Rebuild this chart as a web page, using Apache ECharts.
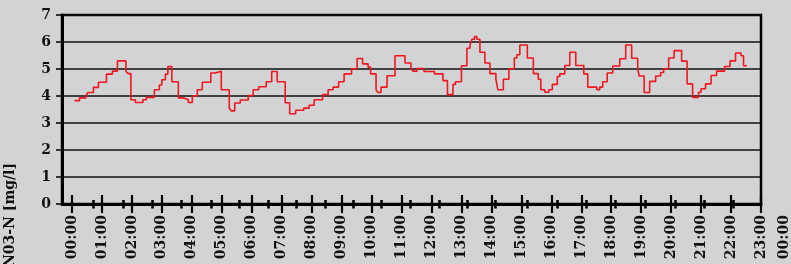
<!DOCTYPE html>
<html>
<head>
<meta charset="utf-8">
<script src="https://cdn.jsdelivr.net/npm/echarts@6/dist/echarts.min.js"></script>
<style>
  html, body { margin: 0; padding: 0; background: #d2d3d5; }
  #chart { width: 791px; height: 264px; }
</style>
</head>
<body>
<div id="chart"></div>
<script>
// step start time (minutes after 00:00) and NO3-N value [mg/l]
const stepTimes = [
  5, 15, 28, 32, 43, 53, 69, 81, 91, 108, 112, 118, 127, 142, 149, 165, 175, 180, 187, 192,
  200, 213, 224, 233, 241, 251, 261, 278, 287, 299, 315, 319, 326, 337, 353, 363, 374, 389, 400, 411,
  427, 436, 448, 464, 475, 485, 502, 513, 523, 534, 545, 560, 571, 582, 593, 598, 609, 613, 619, 631,
  647, 667, 679, 683, 691, 705, 726, 743, 752, 763, 768, 780, 791, 797, 801, 806, 811, 817, 827, 837,
  849, 853, 864, 875, 886, 891, 897, 912, 924, 934, 939, 947, 955, 962, 972, 977, 987, 997, 1009, 1025,
  1033, 1051, 1057, 1063, 1072, 1083, 1097, 1109, 1121, 1133, 1136, 1146, 1157, 1169, 1179, 1185, 1195, 1206, 1221, 1232,
  1243, 1255, 1260, 1269, 1280, 1291, 1307, 1318, 1329, 1340, 1345
];
const no3Values = [
  3.83, 3.93, 4.03, 4.13, 4.32, 4.51, 4.81, 4.92, 5.30, 4.92, 4.83, 3.86, 3.76, 3.86, 3.95, 4.23, 4.41, 4.60, 4.81, 5.09,
  4.53, 3.93, 3.86, 3.76, 4.01, 4.23, 4.51, 4.85, 4.92, 4.23, 3.55, 3.45, 3.74, 3.85, 4.02, 4.23, 4.34, 4.53, 4.91, 4.53,
  3.75, 3.34, 3.47, 3.55, 3.66, 3.86, 4.05, 4.23, 4.33, 4.53, 4.82, 5.01, 5.39, 5.19, 5.07, 4.82, 4.23, 4.13, 4.33, 4.75,
  5.49, 5.22, 5.02, 4.92, 5.02, 4.91, 4.82, 4.57, 4.05, 4.43, 4.53, 5.12, 5.77, 5.87, 6.10, 6.20, 6.10, 5.62, 5.22, 4.83,
  4.62, 4.23, 4.62, 5.01, 5.41, 5.53, 5.89, 5.41, 4.83, 4.62, 4.23, 4.14, 4.23, 4.43, 4.72, 4.82, 5.13, 5.62, 5.13, 4.82,
  4.33, 4.23, 4.33, 4.53, 4.85, 5.11, 5.38, 5.89, 5.40, 5.01, 4.74, 4.13, 4.54, 4.74, 4.87, 5.01, 5.41, 5.68, 5.29, 4.45,
  3.95, 4.14, 4.27, 4.45, 4.76, 4.92, 5.09, 5.30, 5.59, 5.49, 5.12
];
const lastTime = 1352;

const hourLabels = [
  '00:00', '01:00', '02:00', '03:00', '04:00', '05:00', '06:00', '07:00', '08:00', '09:00', '10:00', '11:00',
  '12:00', '13:00', '14:00', '15:00', '16:00', '17:00', '18:00', '19:00', '20:00', '21:00', '22:00', '23:00'
];
// the second tick row of the original (minutes)
const minorTicks = [
  43, 102, 160, 219, 279, 336, 393, 449, 507, 564, 619, 677,
  735, 791, 848, 911, 971, 1031, 1089, 1149, 1208, 1266, 1325
];
const yTicks = [0, 1, 2, 3, 4, 5, 6, 7];

const hourTicks = hourLabels.map(s => parseInt(s, 10) * 60);
const seriesData = stepTimes.map((t, i) => [t, no3Values[i]]);
seriesData.push([lastTime, no3Values[no3Values.length - 1]]);

const font = 'DejaVu Serif';
const labelStyle = { fontFamily: font, fontWeight: 'bold', fontSize: 14, color: '#111' };
const fmtTime = v => hourLabels[Math.round(v / 60) % 24];

const chart = echarts.init(document.getElementById('chart'));
chart.setOption({
  backgroundColor: '#d2d3d5',
  animation: false,
  grid: [
    { left: 62, right: 30, top: 15, bottom: 60, show: true, borderColor: '#000', borderWidth: 2.5, backgroundColor: 'transparent' },
    // only carries the next day's 00:00 label, cut by the edge
    { left: 62, width: 725, top: 15, bottom: 60, show: false }
  ],
  xAxis: [
    {
      gridIndex: 0, type: 'value', min: -20, max: 1380, position: 'bottom',
      axisLine: { show: true, lineStyle: { color: '#000', width: 3 } },
      axisTick: { show: false },
      splitLine: { show: false },
      axisLabel: Object.assign({
        customValues: hourTicks, rotate: 90, margin: 11, formatter: fmtTime
      }, labelStyle)
    },
    {
      // hour ticks crossing the axis
      gridIndex: 0, type: 'value', min: -20, max: 1380, position: 'bottom', offset: -9,
      axisLine: { show: false },
      axisTick: { show: true, customValues: hourTicks, length: 18, lineStyle: { color: '#000', width: 2.2 } },
      axisLabel: { show: false },
      splitLine: { show: false }
    },
    {
      // second tick row
      gridIndex: 0, type: 'value', min: -20, max: 1380, position: 'bottom', offset: -4,
      axisLine: { show: false },
      axisTick: { show: true, customValues: minorTicks, length: 8.5, lineStyle: { color: '#000', width: 2.6 } },
      axisLabel: { show: false },
      splitLine: { show: false }
    },
    {
      gridIndex: 1, type: 'value', min: -20, max: 1440, position: 'bottom',
      axisLine: { show: false },
      axisTick: { show: false },
      splitLine: { show: false },
      axisLabel: Object.assign({
        customValues: [1440], rotate: 90, margin: 11, formatter: fmtTime
      }, labelStyle)
    }
  ],
  yAxis: [
    {
      gridIndex: 0, type: 'value', min: 0, max: 7, interval: 1,
      axisLine: { show: true, onZero: false, lineStyle: { color: '#000', width: 3 } },
      axisTick: { show: true, length: 6, lineStyle: { color: '#000', width: 1.5 } },
      splitLine: { show: true, lineStyle: { color: '#111', width: 1.6 } },
      axisLabel: Object.assign({
        margin: 11, formatter: v => (yTicks.includes(v) ? String(v) : '')
      }, labelStyle)
    },
    { gridIndex: 1, type: 'value', show: false }
  ],
  graphic: [
    {
      type: 'text',
      x: 10, y: 267,
      rotation: Math.PI / 2,
      style: {
        text: 'N03-N [mg/l]',
        font: 'bold 14px "DejaVu Serif"',
        fill: '#111',
        textAlign: 'left',
        textVerticalAlign: 'middle'
      }
    }
  ],
  series: [
    {
      type: 'line',
      xAxisIndex: 0, yAxisIndex: 0,
      step: 'end',
      symbol: 'none',
      data: seriesData,
      lineStyle: { color: '#f2161e', width: 1.6 }
    }
  ]
});
</script>
</body>
</html>
